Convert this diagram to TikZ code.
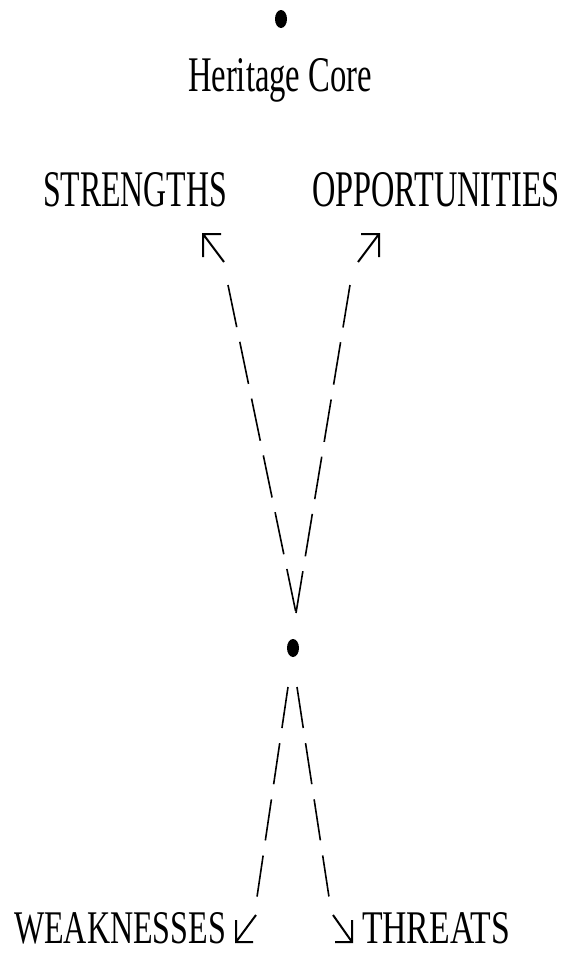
\documentclass[tikz,border=0pt]{standalone}
\usepackage{fontspec}
\setmainfont{Liberation Serif}
\usetikzlibrary{shapes.geometric}
\begin{document}
\begin{tikzpicture}[x=1pt,y=-1pt,
  dotmark/.style={ellipse, fill=black, inner sep=0pt, minimum width=12pt, minimum height=18pt},
  txt/.style={anchor=base west, inner sep=0pt, outer sep=0pt},
  upperdash/.style={line width=1.6pt, dash pattern=on 43pt off 15pt},
  lowerdash/.style={line width=1.6pt, dash pattern=on 41.5pt off 15.3pt},
  glypharrow/.style={line width=2pt, line cap=butt, line join=miter}]
\useasboundingbox (0,0) rectangle (564,953);

% dots
\node[dotmark] (coredot) at (281,19) {};
\node[dotmark] (hub) at (293,648) {};

% labels
\node[txt] (core) at (188,91) {\resizebox{184pt}{33pt}{Heritage Core}};
\node[txt] (S) at (43,206) {\resizebox{184pt}{34pt}{STRENGTHS}};
\node[txt] (O) at (312,206) {\resizebox{248pt}{34pt}{OPPORTUNITIES}};
\node[txt] (W) at (14,943) {\resizebox{212pt}{31pt}{WEAKNESSES}};
\node[txt] (T) at (362,943) {\resizebox{148pt}{31pt}{THREATS}};

% ends of the dashed strokes
\coordinate (apex) at (296,613);
\coordinate (sEnd) at (228,285);
\coordinate (oEnd) at (350,285);
\coordinate (wStart) at (288,687);
\coordinate (wEnd) at (257,897);
\coordinate (tStart) at (297,687);
\coordinate (tEnd) at (329,897);

\draw[upperdash] (sEnd) -- (apex);
\draw[upperdash] (oEnd) -- (apex);
\draw[lowerdash] (wStart) -- (wEnd);
\draw[lowerdash] (tStart) -- (tEnd);

% arrow marks with corner-shaped heads
\coordinate (sTip) at (203,234);
\coordinate (sTail) at (224,262);
\draw[glypharrow] (sTail) -- (sTip) ++(18,0) -- (sTip) -- ++(0,23);

\coordinate (oTip) at (379,234);
\coordinate (oTail) at (358,262);
\draw[glypharrow] (oTail) -- (oTip) ++(-18,0) -- (oTip) -- ++(0,23);

\coordinate (wTip) at (236,942);
\coordinate (wTail) at (256,915);
\draw[glypharrow] (wTail) -- (wTip) ++(17,0) -- (wTip) -- ++(0,-22);

\coordinate (tTip) at (352,942);
\coordinate (tTail) at (333,915);
\draw[glypharrow] (tTail) -- (tTip) ++(-17,0) -- (tTip) -- ++(0,-22);
\end{tikzpicture}
\end{document}
